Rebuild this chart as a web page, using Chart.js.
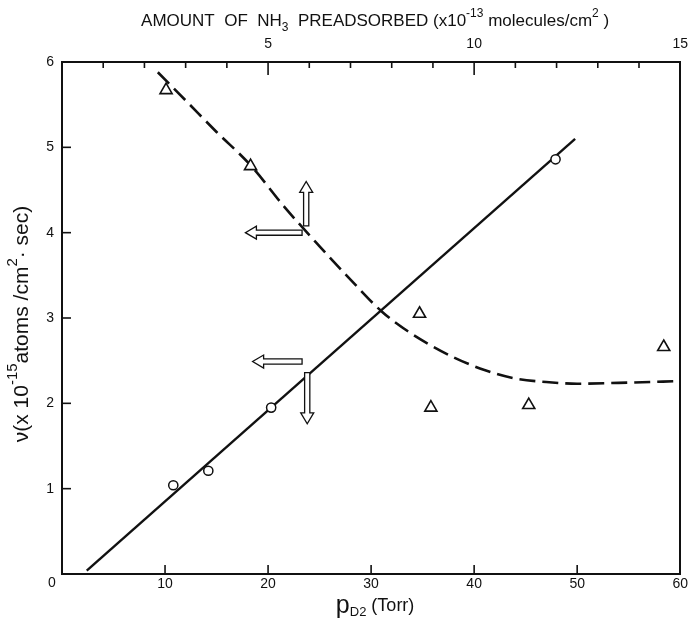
<!DOCTYPE html>
<html>
<head>
<meta charset="utf-8">
<script src="https://cdn.jsdelivr.net/npm/chart.js@4.4.1/dist/chart.umd.min.js"></script>
<style>
  html, body { margin: 0; padding: 0; background: #fff; }
</style>
</head>
<body>
<canvas id="chart" width="697" height="633"></canvas>
<script>
// values
const circleX = [10.8, 14.2, 20.3, 47.9];
const circleY = [1.04, 1.21, 1.95, 4.86];
const triangleX = [10.1, 18.3, 34.7, 35.8, 45.3, 58.4];
const triangleY = [5.67, 4.78, 3.05, 1.95, 1.98, 2.66];
const fitX = [2.4, 49.8];
const fitY = [0.04, 5.1];
const curveX = [9.3, 12, 15, 18.3, 21.6, 25, 28, 31, 33.5, 35.5, 38, 41, 44, 47, 50, 54, 59.8];
const curveY = [5.88, 5.55, 5.18, 4.79, 4.30, 3.84, 3.45, 3.08, 2.85, 2.70, 2.54, 2.39, 2.29, 2.25, 2.23, 2.24, 2.26];
// open arrows: [tailX, tailY, headX, headY] in data units
const arrowMarks = [
    [23.3, 4.0, 17.8, 4.0],
    [23.3, 2.49, 18.5, 2.49],
    [23.7, 4.08, 23.7, 4.6],
    [23.8, 2.36, 23.8, 1.76]
];

const ink = '#111';
const fontFamily = '"Liberation Sans", Arial, sans-serif';
const pts = (xs, ys) => xs.map((x, i) => ({ x: x, y: ys[i] }));

function line(ctx, x0, y0, x1, y1) {
    ctx.beginPath();
    ctx.moveTo(x0, y0);
    ctx.lineTo(x1, y1);
    ctx.stroke();
}

function drawArrow(ctx, x0, y0, x1, y1) {
    const len = Math.hypot(x1 - x0, y1 - y0);
    const dx = (x1 - x0) / len, dy = (y1 - y0) / len;
    const nx = -dy, ny = dx;
    const s = 2.6, h = 6.5, hl = 11;
    const kx = x1 - dx * hl, ky = y1 - dy * hl;
    ctx.beginPath();
    ctx.moveTo(x0 + nx * s, y0 + ny * s);
    ctx.lineTo(kx + nx * s, ky + ny * s);
    ctx.lineTo(kx + nx * h, ky + ny * h);
    ctx.lineTo(x1, y1);
    ctx.lineTo(kx - nx * h, ky - ny * h);
    ctx.lineTo(kx - nx * s, ky - ny * s);
    ctx.lineTo(x0 - nx * s, y0 - ny * s);
    ctx.closePath();
    ctx.fillStyle = '#fff';
    ctx.fill();
    ctx.stroke();
}

// text with sub/superscript pieces, centred on (x, y)
function drawRich(ctx, parts, x, y, size) {
    const small = Math.round(size * 0.7);
    const fontOf = p => (p.s ? small : (p.big || size)) + 'px ' + fontFamily;
    let total = 0;
    parts.forEach(p => {
        ctx.font = fontOf(p);
        total += ctx.measureText(p.t).width;
    });
    let cx = x - total / 2;
    ctx.textBaseline = 'middle';
    ctx.textAlign = 'left';
    parts.forEach(p => {
        ctx.font = fontOf(p);
        let oy = 0;
        if (p.s === 'sup') oy = -size * 0.42;
        if (p.s === 'sub') oy = size * 0.38;
        ctx.fillText(p.t, cx, y + oy);
        cx += ctx.measureText(p.t).width;
    });
}

const frameMarks = {
    id: 'frameMarks',
    afterDraw(chart) {
        const { ctx, chartArea: a, scales } = chart;
        ctx.save();
        ctx.strokeStyle = ink;
        ctx.fillStyle = ink;
        ctx.lineWidth = 1.6;

        // inward tick marks
        scales.x.ticks.forEach(t => {
            if (t.value > 0 && t.value < 60) {
                const px = scales.x.getPixelForValue(t.value);
                line(ctx, px, a.bottom, px, a.bottom - 9);
            }
        });
        scales.y.ticks.forEach(t => {
            if (t.value > 0 && t.value < 6) {
                const py = scales.y.getPixelForValue(t.value);
                line(ctx, a.left, py, a.left + 9, py);
            }
        });
        scales.x2.ticks.forEach(t => {
            if (t.value > 0 && t.value < 15) {
                const px = scales.x2.getPixelForValue(t.value);
                line(ctx, px, a.top, px, a.top + (t.value % 5 === 0 ? 13 : 6));
            }
        });

        // shared origin label in the corner
        ctx.font = '14px ' + fontFamily;
        ctx.textAlign = 'center';
        ctx.textBaseline = 'middle';
        ctx.fillText('0', scales.x.getPixelForValue(0) - 10, scales.y.getPixelForValue(0) + 9);

        // open arrows
        ctx.lineWidth = 1.3;
        arrowMarks.forEach(m => {
            drawArrow(ctx,
                scales.x.getPixelForValue(m[0]), scales.y.getPixelForValue(m[1]),
                scales.x.getPixelForValue(m[2]), scales.y.getPixelForValue(m[3]));
        });

        // titles
        ctx.fillStyle = ink;
        const midX = (a.left + a.right) / 2;
        drawRich(ctx, [
            { t: 'AMOUNT  OF  NH' }, { t: '3', s: 'sub' },
            { t: '  PREADSORBED (x10' }, { t: '-13', s: 'sup' },
            { t: ' molecules/cm' }, { t: '2', s: 'sup' }, { t: ' )' }
        ], midX + 4, 21, 17);

        drawRich(ctx, [
            { t: 'p', big: 25 }, { t: 'D2', s: 'sub' }, { t: ' (Torr)' }
        ], midX + 4, 606, 18);

        ctx.save();
        ctx.translate(22, (a.top + a.bottom) / 2 + 6);
        ctx.rotate(-Math.PI / 2);
        drawRich(ctx, [
            { t: 'ν(x 10' }, { t: '-15', s: 'sup' },
            { t: 'atoms /cm' }, { t: '2', s: 'sup' }, { t: '· sec)' }
        ], 0, 0, 21);
        ctx.restore();

        ctx.restore();
    }
};

const tickFont = { family: fontFamily, size: 14 };

new Chart(document.getElementById('chart').getContext('2d'), {
    type: 'scatter',
    data: {
        datasets: [
            {
                data: pts(circleX, circleY),
                pointStyle: 'circle',
                pointRadius: 4.6,
                pointBackgroundColor: '#fff',
                pointBorderColor: ink,
                pointBorderWidth: 1.5
            },
            {
                data: pts(triangleX, triangleY),
                pointStyle: 'triangle',
                pointRadius: 7,
                pointBackgroundColor: '#fff',
                pointBorderColor: ink,
                pointBorderWidth: 1.6
            },
            {
                data: pts(fitX, fitY),
                showLine: true,
                borderColor: ink,
                borderWidth: 2.4,
                pointRadius: 0
            },
            {
                data: pts(curveX, curveY),
                showLine: true,
                borderColor: ink,
                borderWidth: 2.6,
                borderDash: [16, 7],
                cubicInterpolationMode: 'monotone',
                pointRadius: 0
            }
        ]
    },
    options: {
        responsive: false,
        devicePixelRatio: 1,
        animation: false,
        layout: { padding: 0 },
        plugins: { legend: { display: false }, tooltip: { enabled: false } },
        scales: {
            x: {
                type: 'linear', position: 'bottom', min: 0, max: 60,
                ticks: {
                    stepSize: 10, color: ink, font: tickFont, padding: 2, maxRotation: 0,
                    callback: v => v === 0 ? '' : String(v)
                },
                grid: { display: false, drawTicks: false },
                border: { display: true, color: ink, width: 2 },
                afterFit: s => { s.height = 59; }
            },
            x2: {
                type: 'linear', position: 'top', min: 0, max: 15,
                ticks: {
                    stepSize: 1, color: ink, font: tickFont, padding: 9, maxRotation: 0, autoSkip: false,
                    callback: v => (v > 0 && v % 5 === 0) ? String(v) : ''
                },
                grid: { display: false, drawTicks: false },
                border: { display: true, color: ink, width: 2 },
                afterFit: s => { s.height = 62; }
            },
            y: {
                type: 'linear', position: 'left', min: 0, max: 6,
                ticks: {
                    stepSize: 1, color: ink, font: tickFont, padding: 8,
                    callback: v => v === 0 ? '' : String(v)
                },
                grid: { display: false, drawTicks: false },
                border: { display: true, color: ink, width: 2 },
                afterFit: s => { s.width = 62; }
            },
            y2: {
                type: 'linear', position: 'right', min: 0, max: 6,
                ticks: { display: false },
                grid: { display: false, drawTicks: false },
                border: { display: true, color: ink, width: 2 },
                afterFit: s => { s.width = 8; }
            }
        }
    },
    plugins: [frameMarks]
});
</script>
</body>
</html>
